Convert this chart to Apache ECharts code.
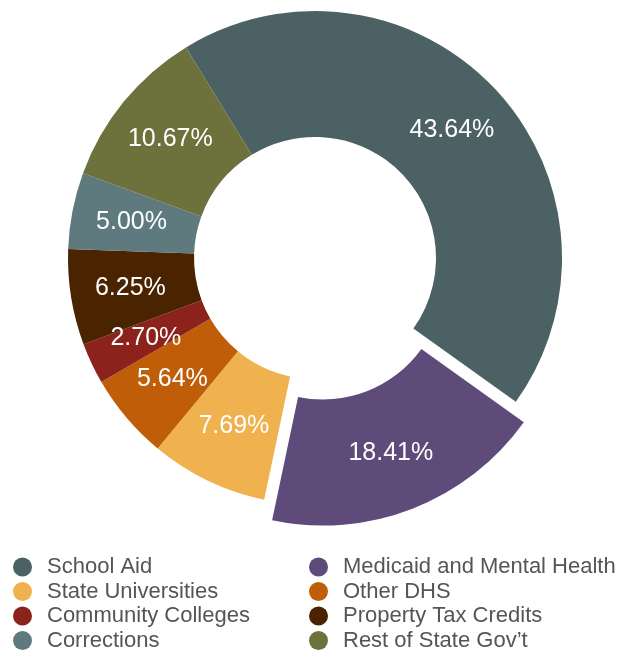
<!DOCTYPE html>
<html><head><meta charset="utf-8">
<script src="https://cdn.jsdelivr.net/npm/echarts@6/dist/echarts.min.js"></script>
<style>html,body{margin:0;padding:0;background:#fff}#main{width:619px;height:652px}</style>
</head><body><div id="main"></div>
<script>
const categories = ['School Aid','Medicaid and Mental Health','State Universities','Other DHS','Community Colleges','Property Tax Credits','Corrections','Rest of State Gov\u2019t'];
const shares = [43.64, 18.41, 7.69, 5.64, 2.70, 6.25, 5.00, 10.67];
const colors = ['#4b6163','#5e4b7a','#f0b14f','#bf5d08','#8b221b','#4a2300','#5f7a7e','#6d713b'];
const explodedIndex = 1;
const leftCol = [0,2,4,6].map(i => categories[i]);
const rightCol = [1,3,5,7].map(i => categories[i]);

const chart = echarts.init(document.getElementById('main'), null, {renderer:'canvas'});
const font = "'Liberation Sans', Helvetica, Arial, sans-serif";
const legendBase = {
  orient: 'vertical', icon: 'circle', itemWidth: 19, itemHeight: 19, itemGap: 2.5,
  selectedMode: false, padding: 0, height: 200,
  textStyle: {fontFamily: font, fontSize: 22, color: '#555', lineHeight: 22, padding: [0,0,0,10]},
  top: 556
};
chart.setOption({
  animation: false,
  color: colors,
  legend: [
    Object.assign({}, legendBase, {left: 13, data: leftCol}),
    Object.assign({}, legendBase, {left: 309, data: rightCol})
  ],
  series: [{
    type: 'pie',
    center: [315, 258],
    radius: [121, 247],
    startAngle: 121.5,
    clockwise: true,
    avoidLabelOverlap: false,
    selectedMode: 'single',
    selectedOffset: 22,
    emphasis: {disabled: true},
    itemStyle: {borderWidth: 0},
    label: {
      show: true, position: 'inside', color: '#fff', fontFamily: font, fontSize: 25,
      formatter: p => p.value.toFixed(2) + '%'
    },
    labelLine: {show: false},
    data: categories.map((c, i) => ({name: c, value: shares[i], selected: i === explodedIndex}))
  }]
});
</script></body></html>
